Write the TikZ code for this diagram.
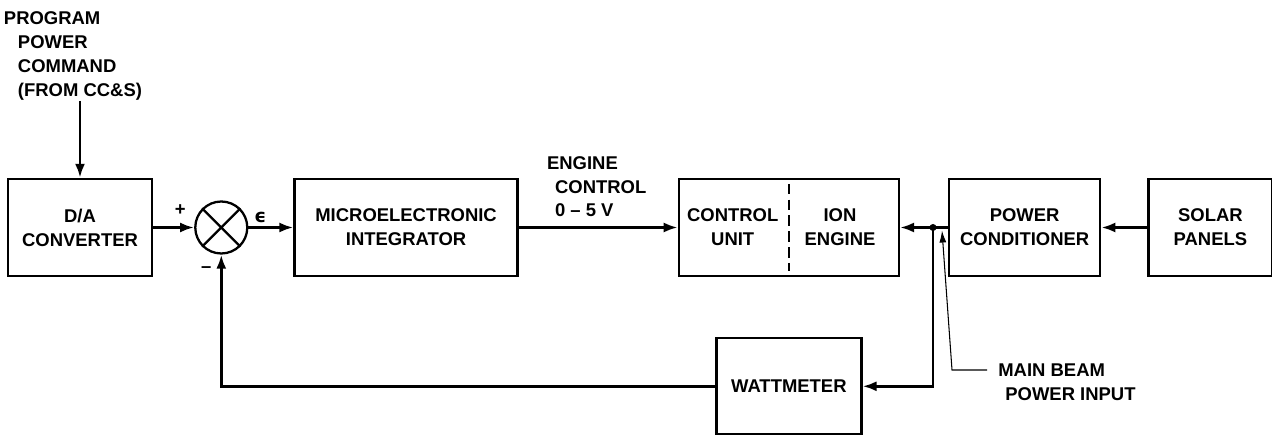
\documentclass[tikz,border=0pt]{standalone}
\usepackage{fontspec}
\setmainfont{Liberation Sans}
\newfontfamily\symfont{DejaVu Sans}
\usetikzlibrary{arrows.meta,positioning}

\begin{document}
\begin{tikzpicture}[
    font=\fontsize{10.5}{13.6}\selectfont\bfseries,
    box/.style={rectangle,draw,line width=1.3pt,minimum height=1.94cm,align=center,inner sep=0pt},
    arrow/.style={-{Latex[length=2.8mm,width=2mm]},line width=1.6pt},
    thinarrow/.style={-{Latex[length=2.4mm,width=1.4mm]},line width=0.6pt}
  ]
    \useasboundingbox (0,0) rectangle (25.44,-8.7);
    \node[box,minimum width=2.88cm] (dac) at (1.6,-4.55) {D/A\\CONVERTER};
    \node[circle,draw,line width=1.3pt,minimum size=1.04cm,inner sep=0pt,right=0.82cm of dac] (sum) {};
    \node[box,minimum width=4.46cm,right=0.9cm of sum] (integ) {MICROELECTRONIC\\INTEGRATOR};
    \node[box,minimum width=4.4cm,right=3.18cm of integ] (ctrl) {};
    \node[box,minimum width=3.02cm,right=0.96cm of ctrl] (pcond) {POWER\\CONDITIONER};
    \node[box,minimum width=2.48cm,right=0.92cm of pcond] (solar) {SOLAR\\PANELS};
    \node[box,minimum width=2.9cm,minimum height=1.92cm,below=1.2cm of ctrl] (watt) {WATTMETER};

    % two halves of the engine box
    \node[align=center] (cunit) at ([xshift=1.1cm]ctrl.west) {CONTROL\\UNIT};
    \node[align=center] (ieng) at ([xshift=-1.2cm]ctrl.east) {ION\\ENGINE};
    \draw[line width=1pt,dash pattern=on 6pt off 3pt] ([yshift=-0.12cm]ctrl.north) -- ([yshift=0.12cm]ctrl.south);

    \draw[line width=1.3pt] (sum.north west) -- (sum.south east) (sum.north east) -- (sum.south west);

    % labels
    \node[align=left,inner sep=0pt,above=1.54cm of dac] (prog) {\hspace*{-0.28cm}PROGRAM\\POWER\\COMMAND\\(FROM CC\&S)};
    \node[align=left,inner sep=0pt,anchor=south west] (ectl) at ([xshift=0.56cm,yshift=0.2cm]integ.east) {ENGINE\\\hspace*{0.16cm}CONTROL\\\hspace*{0.16cm}0 -- 5 V};
    \node (plus) at ([xshift=-0.28cm,yshift=0.34cm]sum.west) {+};
    \node (minus) at ([xshift=-0.3cm,yshift=-0.3cm]sum.south) {--};
    \node (eps) at ([xshift=0.24cm,yshift=0.2cm]sum.east) {\symfont ϵ};
    \node[align=left,anchor=west,inner sep=0pt] (mbeam) at (19.96,-7.64) {MAIN BEAM\\\hspace*{0.14cm}POWER INPUT};

    % connectors
    \draw[arrow] (prog.south -| dac.north) -- (dac.north);
    \draw[arrow] (dac) -- (sum);
    \draw[arrow] (sum) -- (integ);
    \draw[arrow] (integ) -- (ctrl);
    \draw[arrow] (solar) -- (pcond);
    \coordinate (jn) at ([xshift=0.66cm]ctrl.east);
    \draw[arrow] (pcond) -- (ctrl);
    \fill (jn) circle (0.07cm);
    \draw[arrow] (jn) |- (watt);
    \draw[arrow] (watt) -| (sum);

    \coordinate (mbk) at (19.04,-7.4);
    \coordinate (mbe) at (19.74,-7.4);
    \draw[thinarrow] (mbe) -- (mbk) -- ([xshift=0.18cm,yshift=-0.06cm]jn);
  \end{tikzpicture}
\end{document}
